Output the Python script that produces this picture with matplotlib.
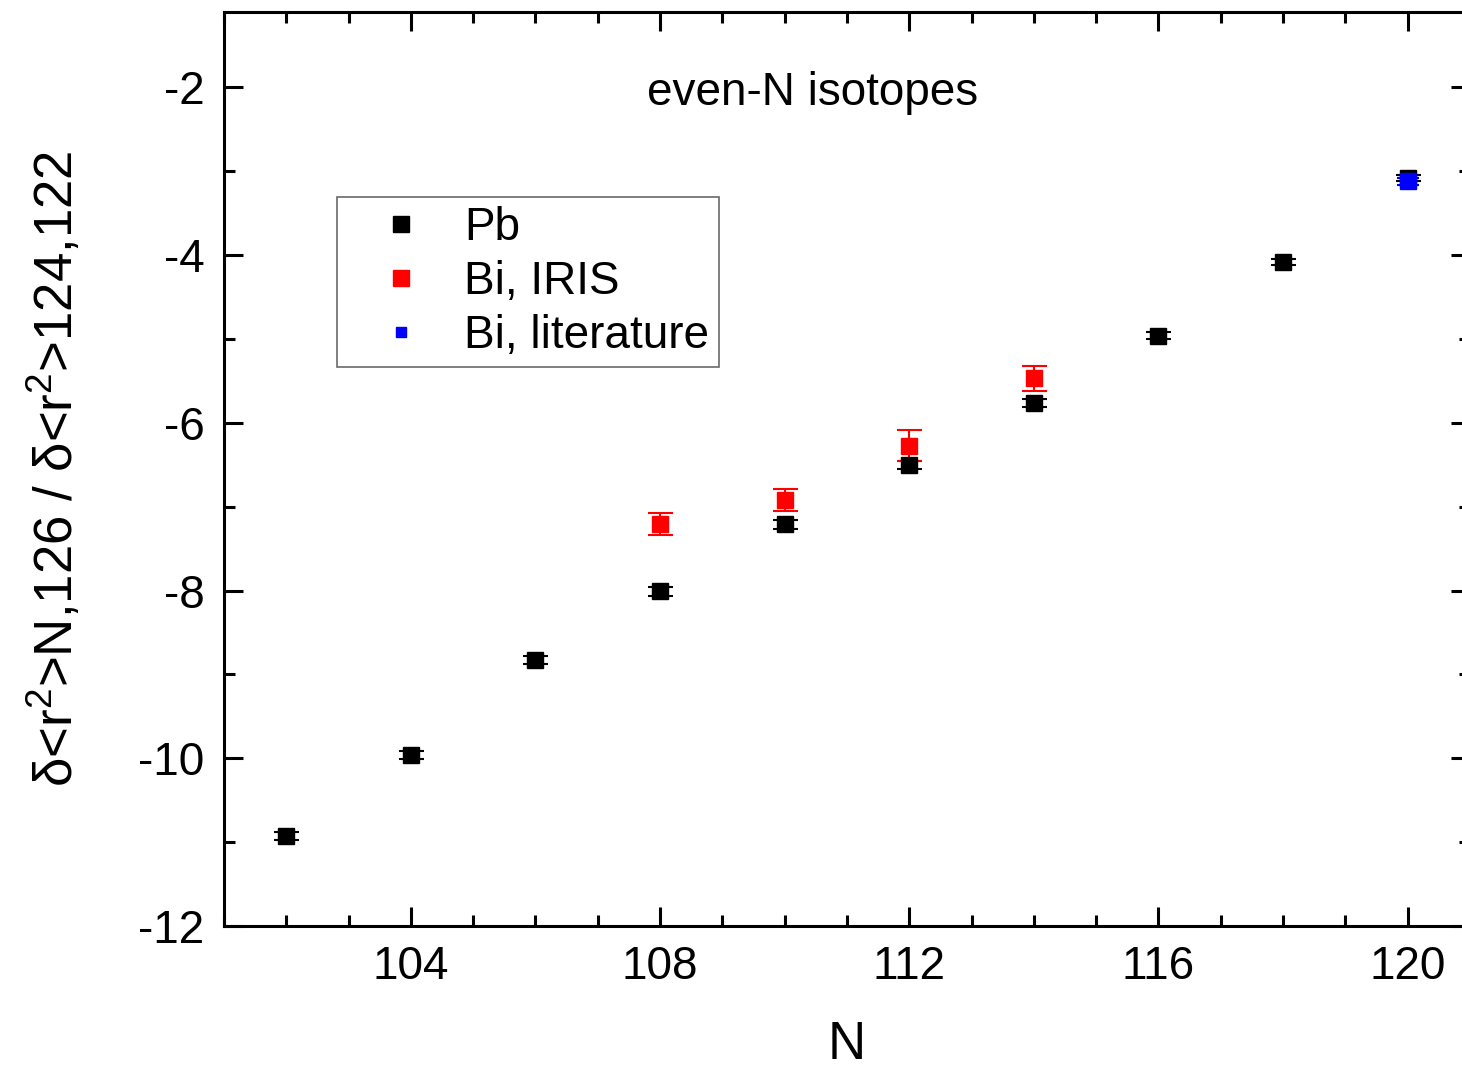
import numpy as np
import matplotlib
matplotlib.use("Agg")
import matplotlib.pyplot as plt
from matplotlib.ticker import MultipleLocator
from matplotlib.lines import Line2D

plt.rcParams['font.family'] = ['Liberation Sans', 'DejaVu Sans']
plt.rcParams['mathtext.fontset'] = 'custom'
plt.rcParams['mathtext.rm'] = 'Liberation Sans'
plt.rcParams['mathtext.it'] = 'Liberation Sans'
plt.rcParams['axes.unicode_minus'] = False

# data
pb_n = [102, 104, 106, 108, 110, 112, 114, 116, 118, 120]
pb_y = [-10.93, -9.96, -8.83, -8.01, -7.21, -6.50, -5.76, -4.96, -4.08, -3.08]
pb_err = [0.05, 0.05, 0.05, 0.05, 0.05, 0.05, 0.05, 0.04, 0.04, 0.04]

iris_n = [108, 110, 112, 114]
iris_y = [-7.21, -6.92, -6.27, -5.47]
iris_err = [0.13, 0.13, 0.18, 0.15]

lit_n = [120]
lit_y = [-3.12]
lit_err = [0.04]

fig = plt.figure(figsize=(14.62, 10.71), dpi=100)
ax = fig.add_axes([224/1462, 145/1071, 1246/1462, 914/1071])

ax.errorbar(pb_n, pb_y, yerr=pb_err, fmt='s', color='black', ms=12,
            capsize=9, elinewidth=1.5, capthick=1.5)
ax.errorbar(iris_n, iris_y, yerr=iris_err, fmt='s', color='red', ms=12,
            capsize=9, elinewidth=1.5, capthick=1.5)
ax.errorbar(lit_n, lit_y, yerr=lit_err, fmt='s', color='blue', ms=11,
            capsize=8, elinewidth=1.5, capthick=1.5)

ax.set_xlim(101, 121)
ax.set_ylim(-12, -1.1)
ax.xaxis.set_minor_locator(MultipleLocator(1))
ax.yaxis.set_major_locator(MultipleLocator(2))
ax.yaxis.set_minor_locator(MultipleLocator(1))
ax.set_xticks([104, 108, 112, 116, 120])

ax.tick_params(which='both', direction='in', top=True, right=True, width=2.2,
               labelsize=33)
ax.tick_params(which='major', length=14, pad=14)
ax.tick_params(which='minor', length=8)
for s in ax.spines.values():
    s.set_linewidth(2.2)

ax.set_xlabel('N', fontsize=38, labelpad=22)
ax.set_ylabel(r'$\delta$<r$^2$>N,126 / $\delta$<r$^2$>124,122', fontsize=38,
              labelpad=39)

ax.text(0.4727, 0.911, 'even-N isotopes', transform=ax.transAxes,
        fontsize=33, ha='center', va='center')

handles = [
    Line2D([], [], ls='none', marker='s', color='black', ms=11),
    Line2D([], [], ls='none', marker='s', color='red', ms=11),
    Line2D([], [], ls='none', marker='s', color='blue', ms=7),
]
labels = ['Pb', 'Bi, IRIS', 'Bi, literature']
leg = ax.legend(handles, labels, loc='upper left',
                bbox_to_anchor=(0.0907, 0.7976),
                borderaxespad=0, fontsize=33, frameon=True, fancybox=False,
                edgecolor='#444444', handlelength=2.4, handletextpad=0.18,
                borderpad=0.2, labelspacing=0.22)
leg.get_frame().set_linewidth(1.2)

fig.savefig('out.png', dpi=100)
